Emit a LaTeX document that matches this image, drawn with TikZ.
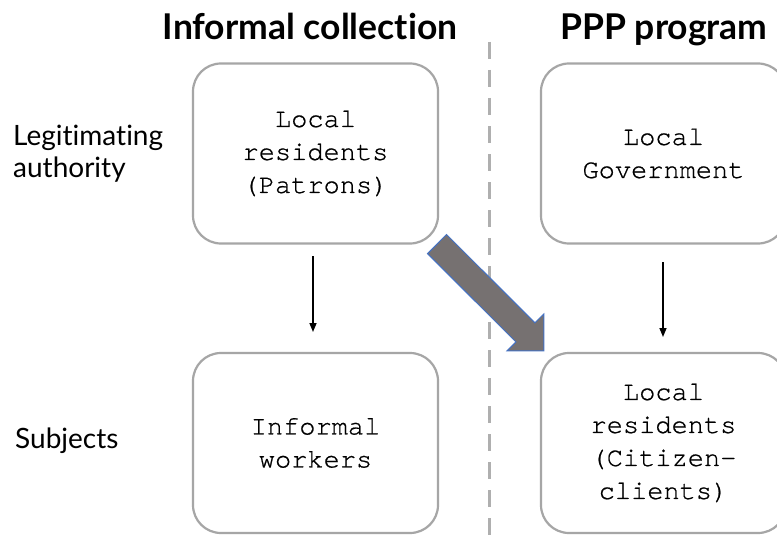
\documentclass[tikz,border=0pt]{standalone}
\usepackage{fontspec}
\setmainfont[Ligatures={NoCommon}]{Lato}
\newfontfamily\boxfont[FakeBold=0.7]{texgyrecursor-regular.otf}
\newfontfamily\titlefont[Ligatures={NoCommon}]{Lato Bold}
\usetikzlibrary{arrows.meta}
\definecolor{boxgray}{HTML}{A6A6A6}
\definecolor{dashgray}{HTML}{AFAFAF}
\definecolor{bigfill}{HTML}{767171}
\definecolor{bigedge}{HTML}{4472C4}
\begin{document}
\begin{tikzpicture}[x=1pt,y=-1pt,
  cell/.style={draw=boxgray, line width=2.2pt, rounded corners=28pt, fill=white,
    minimum width=245pt, minimum height=180pt, align=center,
    font=\boxfont\fontsize{27}{33}\selectfont, inner sep=0pt},
  title/.style={font=\titlefont\fontsize{35.5}{40}\selectfont, anchor=base},
  rowlab/.style={font=\fontsize{28}{32}\selectfont, anchor=base west, align=left, inner sep=0pt},
  thin arrow/.style={line width=1.5pt, -{Triangle[length=9pt,width=7pt]}}]
\useasboundingbox (0,0) rectangle (777,535);
\fill[white] (0,0) rectangle (777,535);
% titles
\node[title] (t1) at (310,40) {Informal collection};
\node[title] (t2) at (664,40) {PPP program};
% row labels
\node[rowlab] (r1) at (13,177) {Legitimating\\authority};
\node[rowlab] (r2) at (15,448) {Subjects};
% dashed separator
\coordinate (d1) at (489,42);
\coordinate (d2) at (489,535);
\draw[dashgray, line width=3pt, dash pattern=on 17pt off 11pt] (d1) -- (d2);
% boxes
\node[cell] (tl) at (315.5,153.5) {Local\\residents\\(Patrons)};
\node[cell] (tr) at (663.5,153.5) {Local\\Government};
\node[cell] (bl) at (315.5,443) {Informal\\workers};
\node[cell] (br) at (663.5,443) {Local\\residents\\(Citizen-\\clients)};
% thin arrows
\coordinate (a1s) at (313,256);
\coordinate (a1e) at (313,332);
\coordinate (a2s) at (663,262);
\coordinate (a2e) at (663,337);
\draw[thin arrow] (a1s) -- (a1e);
\draw[thin arrow] (a2s) -- (a2e);
% big block arrow
\filldraw[fill=bigfill, draw=bigedge, line width=1pt, line join=miter]
  (446.5,234.5) -- (534.9,322.8) -- (543.8,314) -- (543.8,350.8)
  -- (507,350.8) -- (515.9,341.9) -- (427.5,253.6) -- cycle;
\end{tikzpicture}
\end{document}
